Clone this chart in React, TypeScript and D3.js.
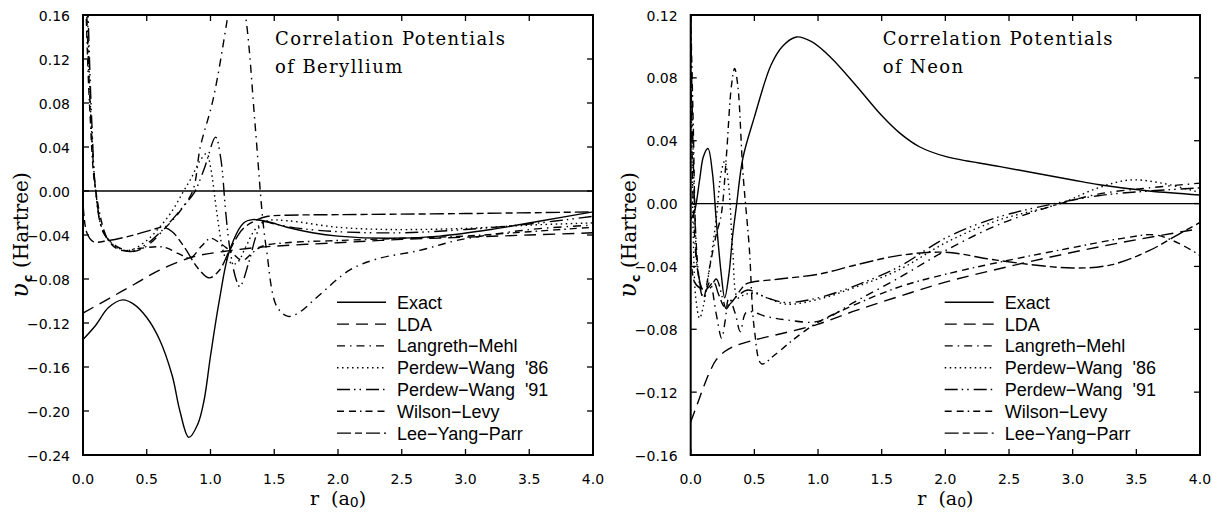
import React from 'react';
import * as d3 from 'd3';

type Pt = [number, number];

// ---------- tick values ----------
const R_TICKS = [0, 0.5, 1, 1.5, 2, 2.5, 3, 3.5, 4];
const BE_V_TICKS = [-0.24, -0.2, -0.16, -0.12, -0.08, -0.04, 0, 0.04, 0.08, 0.12, 0.16];
const NE_V_TICKS = [-0.16, -0.12, -0.08, -0.04, 0, 0.04, 0.08, 0.12];

// ---------- legend labels ----------
const METHODS = ['Exact', 'LDA', 'Langreth−Mehl', "Perdew−Wang  '86", "Perdew−Wang  '91", 'Wilson−Levy', 'Lee−Yang−Parr'];

// ---------- Beryllium ----------
const beExact: Pt[] = [[0, -0.135], [0.1, -0.122], [0.2, -0.106], [0.31, -0.099], [0.4, -0.103], [0.5, -0.115], [0.6, -0.135], [0.7, -0.168], [0.76, -0.2], [0.83, -0.224], [0.9, -0.212], [0.95, -0.19], [1.0, -0.15], [1.07, -0.099], [1.15, -0.054], [1.26, -0.029], [1.33, -0.026], [1.45, -0.028], [1.6, -0.033], [1.8, -0.038], [2.0, -0.041], [2.4, -0.043], [2.8, -0.041], [3.2, -0.035], [3.6, -0.027], [4.0, -0.019]];
const beLDA: Pt[] = [[0, -0.111], [0.2, -0.098], [0.4, -0.085], [0.6, -0.072], [0.86, -0.06], [1.1, -0.055], [1.4, -0.051], [2.0, -0.047], [2.5, -0.044], [3.0, -0.042], [3.5, -0.04], [4.0, -0.038]];
const beLM: Pt[] = [[0.005, 0.3], [0.03, 0.16], [0.06, 0.07], [0.1, 0.0], [0.16, -0.038], [0.26, -0.05], [0.39, -0.055], [0.5, -0.05], [0.65, -0.033], [0.75, -0.02], [0.86, 0.0], [0.92, 0.04], [1.02, 0.083], [1.13, 0.155], [1.2, 0.21], [1.28, 0.155], [1.35, 0.06], [1.41, -0.026], [1.44, -0.054], [1.52, -0.105], [1.61, -0.114], [1.7, -0.11], [1.85, -0.095], [2.09, -0.072], [2.3, -0.062], [2.64, -0.054], [2.93, -0.045], [3.3, -0.038], [3.6, -0.034], [4.0, -0.031]];
const bePW86: Pt[] = [[0.01, 0.25], [0.035, 0.16], [0.065, 0.06], [0.1, 0.0], [0.15, -0.034], [0.25, -0.05], [0.36, -0.054], [0.5, -0.045], [0.6, -0.033], [0.7, -0.018], [0.78, -0.002], [0.85, 0.012], [0.92, 0.028], [0.97, 0.034], [1.0, 0.022], [1.05, -0.02], [1.1, -0.055], [1.13, -0.063], [1.2, -0.066], [1.28, -0.05], [1.35, -0.035], [1.45, -0.027], [1.6, -0.027], [2.0, -0.033], [2.4, -0.035], [3.0, -0.034], [3.5, -0.031], [4.0, -0.029]];
const bePW91: Pt[] = [[0.01, 0.28], [0.04, 0.16], [0.07, 0.06], [0.1, 0.0], [0.16, -0.037], [0.26, -0.051], [0.38, -0.055], [0.5, -0.048], [0.6, -0.038], [0.7, -0.026], [0.8, -0.012], [0.87, -0.002], [0.95, 0.02], [1.04, 0.049], [1.08, 0.03], [1.12, -0.02], [1.15, -0.051], [1.2, -0.08], [1.23, -0.087], [1.3, -0.065], [1.36, -0.04], [1.41, -0.028], [1.5, -0.03], [1.7, -0.034], [2.0, -0.037], [2.5, -0.038], [3.0, -0.035], [3.5, -0.03], [4.0, -0.023]];
const beWL: Pt[] = [[0.005, 0.26], [0.025, 0.16], [0.055, 0.07], [0.1, 0.0], [0.2, -0.045], [0.3, -0.054], [0.45, -0.052], [0.63, -0.051], [0.75, -0.057], [0.84, -0.061], [0.93, -0.05], [1.0, -0.043], [1.07, -0.047], [1.15, -0.054], [1.25, -0.063], [1.33, -0.056], [1.41, -0.05], [1.6, -0.047], [2.0, -0.045], [2.5, -0.043], [3.0, -0.041], [3.5, -0.037], [4.0, -0.033]];
const beLYP: Pt[] = [[0, -0.01], [0.03, -0.038], [0.08, -0.046], [0.2, -0.045], [0.4, -0.04], [0.55, -0.035], [0.63, -0.033], [0.7, -0.037], [0.8, -0.052], [0.9, -0.07], [0.99, -0.079], [1.07, -0.072], [1.15, -0.054], [1.25, -0.035], [1.35, -0.027], [1.45, -0.023], [1.6, -0.022], [2.0, -0.0215], [3.0, -0.0205], [4.0, -0.019]];

// ---------- Neon ----------
const neExact: Pt[] = [[0, -0.01], [0.03, -0.005], [0.07, 0.015], [0.1, 0.03], [0.136, 0.035], [0.17, 0.02], [0.2, -0.01], [0.24, -0.045], [0.267, -0.06], [0.3, -0.045], [0.33, -0.02], [0.36, -0.001], [0.41, 0.029], [0.5, 0.055], [0.63, 0.088], [0.72, 0.1], [0.83, 0.106], [0.95, 0.103], [1.1, 0.093], [1.3, 0.075], [1.5, 0.056], [1.64, 0.045], [1.8, 0.036], [2.0, 0.03], [2.43, 0.0235], [3.0, 0.015], [3.21, 0.012], [3.6, 0.008], [4.0, 0.0055]];
const neLDA: Pt[] = [[0, -0.139], [0.05, -0.128], [0.1, -0.117], [0.15, -0.107], [0.2, -0.0995], [0.27, -0.094], [0.335, -0.091], [0.49, -0.087], [0.7, -0.083], [0.99, -0.077], [1.3, -0.068], [1.64, -0.059], [2.0, -0.05], [2.5, -0.04], [3.0, -0.031], [3.5, -0.023], [4.0, -0.016]];
const neLM: Pt[] = [[0, 0.12], [0.02, 0.0], [0.05, -0.04], [0.1, -0.06], [0.15, -0.05], [0.2, -0.07], [0.243, -0.0857], [0.27, -0.075], [0.3, -0.06], [0.35, -0.07], [0.39, -0.0815], [0.44, -0.069], [0.6, -0.072], [0.75, -0.074], [1.0, -0.075], [1.3, -0.062], [1.64, -0.047], [2.0, -0.03], [2.4, -0.014], [2.82, -0.002], [3.2, 0.006], [3.6, 0.01], [4.0, 0.013]];
const nePW86: Pt[] = [[0, 0.1], [0.02, -0.02], [0.04, -0.06], [0.07, -0.073], [0.1, -0.065], [0.15, -0.04], [0.2, -0.01], [0.24, 0.02], [0.267, 0.027], [0.3, 0.01], [0.33, -0.03], [0.37, -0.06], [0.42, -0.058], [0.5, -0.057], [0.6, -0.06], [0.75, -0.064], [1.0, -0.061], [1.3, -0.053], [1.64, -0.042], [2.0, -0.025], [2.4, -0.011], [2.9, 0.0], [3.2, 0.01], [3.45, 0.015], [3.7, 0.013], [4.0, 0.007]];
const nePW91: Pt[] = [[0, 0.12], [0.03, 0.0], [0.06, -0.045], [0.1, -0.055], [0.15, -0.054], [0.2, -0.048], [0.25, -0.06], [0.28, -0.067], [0.32, -0.062], [0.38, -0.058], [0.45, -0.055], [0.6, -0.06], [0.75, -0.063], [1.0, -0.06], [1.3, -0.052], [1.64, -0.04], [2.0, -0.022], [2.4, -0.009], [2.8, -0.001], [3.2, 0.005], [3.6, 0.008], [4.0, 0.01]];
const neWL: Pt[] = [[0, 0.12], [0.02, 0.05], [0.04, -0.02], [0.07, -0.05], [0.1, -0.06], [0.15, -0.04], [0.2, -0.02], [0.24, -0.007], [0.28, 0.03], [0.32, 0.075], [0.345, 0.086], [0.37, 0.075], [0.41, 0.02], [0.46, -0.028], [0.5, -0.08], [0.557, -0.102], [0.65, -0.097], [0.8, -0.087], [0.99, -0.076], [1.3, -0.064], [1.64, -0.053], [2.0, -0.045], [2.5, -0.036], [3.0, -0.028], [3.4, -0.022], [3.65, -0.02], [3.85, -0.026], [4.0, -0.033]];
const neLYP: Pt[] = [[0, -0.03], [0.03, -0.05], [0.08, -0.054], [0.13, -0.054], [0.18, -0.05], [0.22, -0.058], [0.27, -0.066], [0.33, -0.062], [0.4, -0.054], [0.44, -0.051], [0.7, -0.048], [1.0, -0.045], [1.3, -0.039], [1.64, -0.033], [2.0, -0.031], [2.4, -0.036], [3.0, -0.041], [3.3, -0.039], [3.6, -0.03], [3.8, -0.021], [4.0, -0.012]];

const DASHES = ['none', '12,7', '8,5,1.5,5', '1.5,3.5', '13,4,1.5,4,1.5,5', '7,5,7,4,1.5,4', '14,4,7,4'];

type PanelProps = {
  id: string;
  left: number;
  right: number;
  top: number;
  bottom: number;
  vDomain: [number, number];
  vTicks: number[];
  series: Pt[][];
  title: string[];
};

function Panel({ id, left, right, top, bottom, vDomain, vTicks, series, title }: PanelProps) {
  const x = d3.scaleLinear().domain([0, 4]).range([left, right]);
  const y = d3.scaleLinear().domain(vDomain).range([bottom, top]);
  const line = d3
    .line<Pt>()
    .x((d) => x(d[0]))
    .y((d) => y(d[1]))
    .curve(d3.curveCatmullRom.alpha(0.5));
  const fmtY = d3.format('.2f');
  const fmtX = d3.format('.1f');
  const tick = 6;
  const cx = (left + right) / 2;
  const cy = (top + bottom) / 2;
  return (
    <g>
      <defs>
        <clipPath id={id}>
          <rect x={left} y={top} width={right - left} height={bottom - top} />
        </clipPath>
      </defs>
      <line x1={left} x2={right} y1={y(0)} y2={y(0)} stroke="#000" strokeWidth={1.3} />
      <g clipPath={`url(#${id})`}>
        {series.map((s, i) => (
          <path
            key={i}
            d={line(s) || ''}
            fill="none"
            stroke="#000"
            strokeWidth={1.4}
            strokeDasharray={DASHES[i]}
          />
        ))}
      </g>
      <rect x={left} y={top} width={right - left} height={bottom - top} fill="none" stroke="#000" strokeWidth={2} />
      {R_TICKS.map((t) => (
        <g key={'x' + t}>
          <line x1={x(t)} x2={x(t)} y1={bottom} y2={bottom - tick} stroke="#000" strokeWidth={1.3} />
          <line x1={x(t)} x2={x(t)} y1={top} y2={top + tick} stroke="#000" strokeWidth={1.3} />
          <text x={x(t)} y={bottom + 28.5} textAnchor="middle" fontFamily="DejaVu Sans" fontSize={14}>
            {fmtX(t)}
          </text>
        </g>
      ))}
      {vTicks.map((t) => (
        <g key={'y' + t}>
          <line x1={left} x2={left + tick} y1={y(t)} y2={y(t)} stroke="#000" strokeWidth={1.3} />
          <line x1={right} x2={right - tick} y1={y(t)} y2={y(t)} stroke="#000" strokeWidth={1.3} />
          <text x={left - 13} y={y(t) + 5.5} textAnchor="end" fontFamily="DejaVu Sans" fontSize={14}>
            {fmtY(t)}
          </text>
        </g>
      ))}
      {title.map((t, i) => (
        <text
          key={'t' + i}
          x={left + 192}
          y={45 + i * 28}
          fontFamily="DejaVu Serif"
          fontSize={18}
          letterSpacing={1.4}
          xmlSpace="preserve"
        >
          {t}
        </text>
      ))}
      {METHODS.map((m, i) => {
        const ly = 302.3 + i * 21.8;
        return (
          <g key={'l' + i}>
            <line x1={left + 254} x2={left + 303} y1={ly} y2={ly} stroke="#000" strokeWidth={1.4} strokeDasharray={DASHES[i]} />
            <text x={left + 314} y={ly + 6.5} fontFamily="Liberation Sans" fontSize={18} xmlSpace="preserve">
              {m}
            </text>
          </g>
        );
      })}
      <text x={cx} y={505} textAnchor="middle" fontFamily="DejaVu Serif" fontSize={19} xmlSpace="preserve">
        {'r  (a'}
        <tspan fontFamily="DejaVu Sans" fontSize={14} dy={2}>0</tspan>
        <tspan dy={-2}>)</tspan>
      </text>
      <text
        transform={`translate(${left - 55},${cy}) rotate(-90)`}
        textAnchor="middle"
        fontFamily="DejaVu Serif"
        fontSize={20}
        xmlSpace="preserve"
      >
        <tspan fontStyle="italic" fontSize={24}>υ</tspan>
        <tspan fontFamily="DejaVu Sans" fontWeight="bold" fontSize={13} dx={1} dy={4}>c</tspan>
        <tspan dy={-4}>{' (Hartree)'}</tspan>
      </text>
    </g>
  );
}

export default function App() {
  return (
    <svg
      width={1212}
      height={512}
      viewBox="0 0 1212 512"
      style={{ position: 'absolute', left: 0, top: 0, background: '#fff' }}
    >
      <rect x={0} y={0} width={1212} height={512} fill="#fff" />
      <Panel
        id="clipBe"
        left={83}
        right={593}
        top={15}
        bottom={455}
        vDomain={[-0.24, 0.16]}
        vTicks={BE_V_TICKS}
        series={[beExact, beLDA, beLM, bePW86, bePW91, beWL, beLYP]}
        title={['Correlation Potentials', 'of Beryllium']}
      />
      <Panel
        id="clipNe"
        left={690.7}
        right={1200}
        top={15}
        bottom={455}
        vDomain={[-0.16, 0.12]}
        vTicks={NE_V_TICKS}
        series={[neExact, neLDA, neLM, nePW86, nePW91, neWL, neLYP]}
        title={['Correlation Potentials', 'of Neon']}
      />
    </svg>
  );
}
